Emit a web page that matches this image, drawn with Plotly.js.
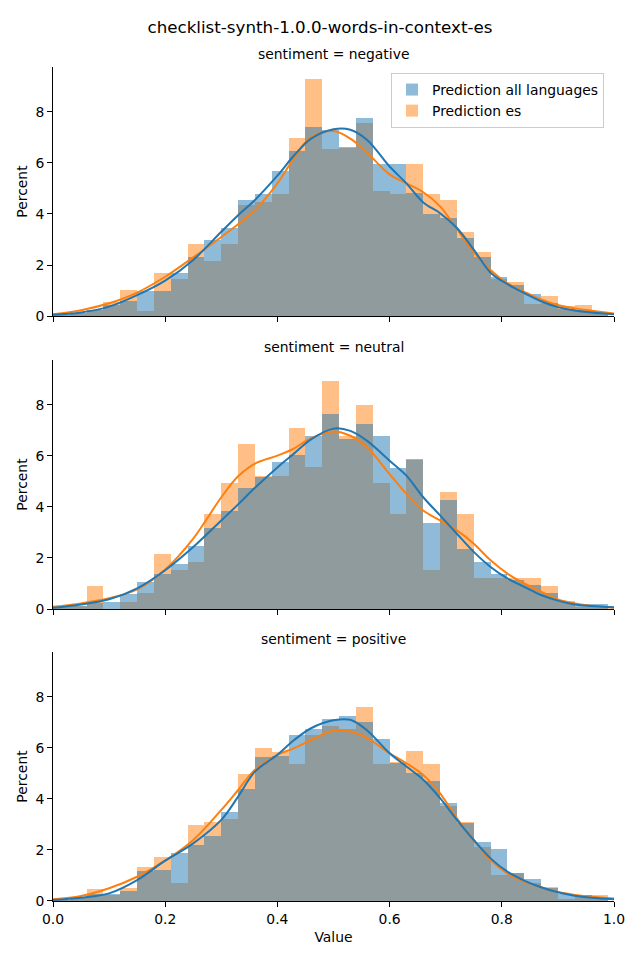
<!DOCTYPE html>
<html>
<head>
<meta charset="utf-8">
<script src="https://cdn.plot.ly/plotly-3.0.1.min.js"></script>
<style>html,body{margin:0;padding:0;background:#fff;}#chart{width:640px;height:960px;}</style>
</head>
<body>
<div id="chart"></div>
<script>
// ---- data ----
var binCenters = [0.015,0.045,0.075,0.105,0.135,0.165,0.195,0.225,0.255,0.285,0.315,0.345,0.375,0.405,0.435,0.465,0.495,0.525,0.555,0.585,0.615,0.645,0.675,0.705,0.735,0.765,0.795,0.825,0.855,0.885,0.915,0.945,0.975];
var panelTitles = ["sentiment = negative", "sentiment = neutral", "sentiment = positive"];
var seriesNames = ["Prediction all languages", "Prediction es"];

var negAll = [0.05,0.13,0.22,0.42,0.59,0.97,1.0,1.7,2.33,2.98,3.46,4.55,4.78,5.69,6.48,7.42,7.3,6.62,7.75,5.96,5.96,4.81,4.0,3.84,3.06,2.33,1.54,1.2,0.86,0.5,0.28,0.22,0.14];
var negEs  = [0.05,0.13,0.25,0.54,1.02,0.2,1.7,1.45,2.84,2.16,2.84,4.35,4.48,4.78,6.98,9.29,6.54,6.6,7.56,4.9,4.78,5.96,4.78,4.55,3.29,2.51,1.45,1.32,0.46,0.78,0.4,0.43,0.12];
var neuAll = [0.08,0.12,0.25,0.29,0.59,1.07,1.38,1.76,2.46,3.17,3.86,4.76,5.16,5.77,6.05,6.78,7.66,6.68,7.27,6.79,5.51,5.88,3.39,4.29,2.34,1.85,1.39,1.13,0.96,0.61,0.26,0.21,0.18];
var neuEs  = [0.08,0.1,0.9,0.02,0.29,0.61,2.15,1.53,1.85,3.71,4.92,6.48,5.23,5.23,7.1,5.55,8.93,6.78,8.0,4.93,3.71,5.85,1.52,4.6,3.71,1.21,1.21,1.2,1.2,0.9,0.31,0.09,0.09];
var posAll = [0.05,0.1,0.26,0.28,0.39,1.19,1.22,1.88,2.2,2.55,3.49,4.39,5.65,5.69,6.51,6.75,7.14,7.25,7.02,6.35,5.4,5.02,4.71,3.84,3.06,2.31,2.04,1.08,0.85,0.5,0.26,0.22,0.13];
var posEs  = [0.05,0.1,0.47,0.25,0.5,1.32,1.73,0.71,2.98,3.1,3.22,4.98,6.0,5.85,5.37,6.51,6.86,6.75,7.61,5.37,5.45,5.88,5.37,3.73,3.1,2.13,1.0,1.1,0.72,0.56,0.06,0.24,0.24];

var kdeX = [0,0.05,0.1,0.15,0.2,0.25,0.3,0.33,0.36,0.4,0.43,0.46,0.5,0.53,0.56,0.6,0.63,0.66,0.69,0.72,0.75,0.78,0.81,0.84,0.87,0.9,0.93,0.96,1.0];
var negAllKde = [0.05,0.14,0.37,0.82,1.39,2.2,3.3,3.95,4.55,5.5,6.3,6.95,7.32,7.3,6.9,5.86,5.2,4.45,4.03,3.45,2.6,1.7,1.25,0.9,0.58,0.35,0.22,0.14,0.07];
var negEsKde  = [0.07,0.23,0.5,0.92,1.54,2.3,3.1,3.6,4.15,5.2,6.2,7.0,7.25,6.95,6.4,5.55,5.2,4.85,4.3,3.4,2.5,1.8,1.28,0.95,0.65,0.43,0.3,0.21,0.1];
var neuAllKde = [0.05,0.18,0.38,0.81,1.52,2.43,3.47,4.1,4.75,5.55,6.1,6.65,7.07,6.98,6.59,5.81,5.23,4.38,3.67,2.95,2.24,1.65,1.2,0.87,0.55,0.33,0.18,0.12,0.07];
var neuEsKde  = [0.09,0.22,0.42,0.77,1.55,2.76,4.38,5.2,5.7,6.01,6.3,6.7,6.96,6.79,6.33,5.29,4.51,3.86,3.47,3.08,2.56,1.91,1.39,1.0,0.68,0.38,0.22,0.12,0.05];
var posAllKde = [0.04,0.13,0.3,0.82,1.58,2.26,3.18,4.09,5.07,5.73,6.31,6.77,7.08,7.1,6.68,5.79,5.27,4.75,4.03,3.18,2.39,1.67,1.15,0.8,0.54,0.34,0.21,0.13,0.07];
var posEsKde  = [0.07,0.2,0.5,0.95,1.58,2.39,3.57,4.35,5.14,5.73,5.99,6.31,6.67,6.64,6.38,5.79,5.4,4.94,4.22,3.24,2.39,1.61,1.08,0.76,0.54,0.35,0.24,0.17,0.1];

var yTicks = [0,2,4,6,8];
var xTicks = [0,0.2,0.4,0.6,0.8,1.0];
var xTickText = ["0.0","0.2","0.4","0.6","0.8","1.0"];

// ---- build ----
var BLUE = '#1f77b4', ORANGE = '#ff7f0e';
var panels = [
  {all: negAll, es: negEs, allK: negAllKde, esK: negEsKde},
  {all: neuAll, es: neuEs, allK: neuAllKde, esK: neuEsKde},
  {all: posAll, es: posEs, allK: posAllKde, esK: posEsKde}
];
var traces = [];
panels.forEach(function(p, i) {
  var xa = i === 0 ? 'x' : 'x' + (i + 1);
  var ya = i === 0 ? 'y' : 'y' + (i + 1);
  traces.push({type: 'bar', x: binCenters, y: p.es, width: 0.03, xaxis: xa, yaxis: ya,
    name: seriesNames[1], legendrank: 2, showlegend: i === 0,
    marker: {color: 'rgba(255,127,14,0.5)', line: {width: 0}}, hoverinfo: 'skip'});
  traces.push({type: 'bar', x: binCenters, y: p.all, width: 0.03, xaxis: xa, yaxis: ya,
    name: seriesNames[0], legendrank: 1, showlegend: i === 0,
    marker: {color: 'rgba(31,119,180,0.5)', line: {width: 0}}, hoverinfo: 'skip'});
  traces.push({type: 'scatter', mode: 'lines', x: kdeX, y: p.esK, xaxis: xa, yaxis: ya,
    showlegend: false, line: {color: ORANGE, width: 2, shape: 'spline', smoothing: 1}, hoverinfo: 'skip'});
  traces.push({type: 'scatter', mode: 'lines', x: kdeX, y: p.allK, xaxis: xa, yaxis: ya,
    showlegend: false, line: {color: BLUE, width: 2, shape: 'spline', smoothing: 1}, hoverinfo: 'skip'});
});

var font = {family: 'DejaVu Sans, sans-serif', size: 13.9, color: '#000'};
var domains = [[0.7014, 1.0], [0.3501, 0.6487], [0.0, 0.2986]];

function xAxis(i) {
  return {domain: [0, 1], range: [0, 1], anchor: i === 0 ? 'y' : 'y' + (i + 1),
    tickvals: xTicks, ticktext: xTickText, showticklabels: i === 2,
    ticks: 'outside', ticklen: 5, tickwidth: 1, tickcolor: '#000',
    showline: true, linecolor: '#000', linewidth: 1, showgrid: false, zeroline: false,
    tickfont: font, fixedrange: true,
    title: i === 2 ? {text: 'Value', font: font, standoff: 6} : {text: ''}};
}
function yAxis(i) {
  return {domain: domains[i], range: [0, 9.76], anchor: i === 0 ? 'x' : 'x' + (i + 1),
    tickvals: yTicks, ticks: 'outside', ticklen: 5, tickwidth: 1, tickcolor: '#000',
    showline: true, linecolor: '#000', linewidth: 1, showgrid: false, zeroline: false,
    tickfont: font, fixedrange: true,
    title: {text: 'Percent', font: font, standoff: 4}};
}

var annotations = panelTitles.map(function(t, i) {
  return {text: t, xref: 'paper', yref: 'paper', x: 0.5, y: domains[i][1],
    xanchor: 'center', yanchor: 'bottom', yshift: 3, showarrow: false, font: font};
});

var layout = {
  width: 640, height: 960,
  margin: {l: 53, r: 26, t: 67, b: 59},
  paper_bgcolor: '#fff', plot_bgcolor: '#fff',
  font: font,
  barmode: 'overlay', bargap: 0,
  title: {text: 'checklist-synth-1.0.0-words-in-context-es', xref: 'container', yref: 'container',
    x: 0.5, y: 1 - 27 / 960, xanchor: 'center', yanchor: 'middle',
    font: {family: 'DejaVu Sans, sans-serif', size: 16.7, color: '#000'}},
  xaxis: xAxis(0), xaxis2: xAxis(1), xaxis3: xAxis(2),
  yaxis: yAxis(0), yaxis2: yAxis(1), yaxis3: yAxis(2),
  annotations: annotations,
  showlegend: true,
  legend: {x: 0.6025, y: 0.9928, xanchor: 'left', yanchor: 'top', xref: 'paper', yref: 'paper',
    bgcolor: 'rgba(255,255,255,0.8)', bordercolor: '#cccccc', borderwidth: 1,
    font: font, traceorder: 'normal', itemwidth: 30}
};

Plotly.newPlot('chart', traces, layout, {displayModeBar: false, staticPlot: true});
</script>
</body>
</html>
